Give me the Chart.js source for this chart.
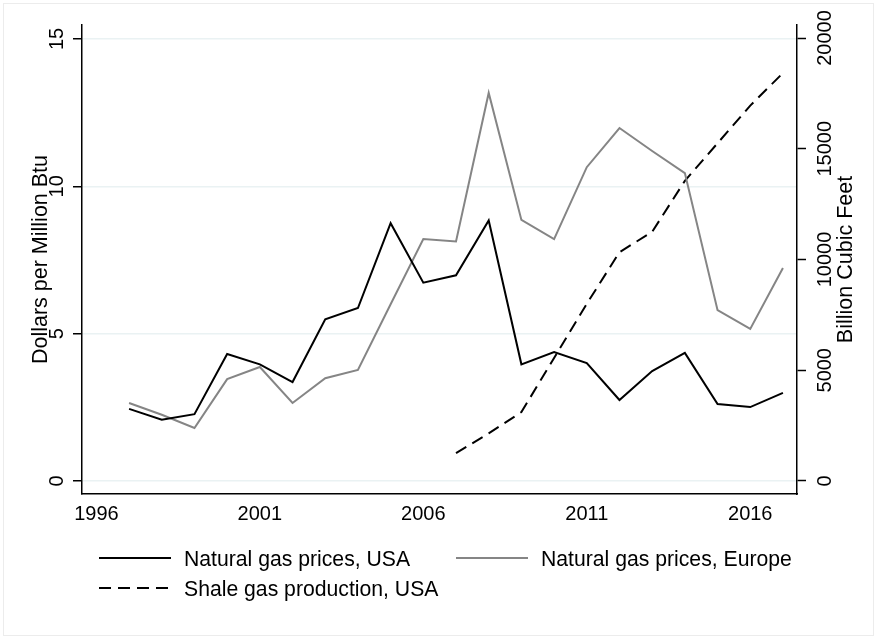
<!DOCTYPE html>
<html>
<head>
<meta charset="utf-8">
<script src="https://cdn.jsdelivr.net/npm/chart.js@4.4.1/dist/chart.umd.min.js"></script>
<style>
  html, body { margin: 0; padding: 0; background: #fff; }
  #wrap { width: 876px; height: 637px; }
</style>
</head>
<body>
<div id="wrap"><canvas id="gasChart" width="876" height="637"></canvas></div>
<script>
// Data
const years = [1997, 1998, 1999, 2000, 2001, 2002, 2003, 2004, 2005, 2006, 2007,
               2008, 2009, 2010, 2011, 2012, 2013, 2014, 2015, 2016, 2017];
const priceUSA = [2.45, 2.08, 2.27, 4.31, 3.96, 3.36, 5.49, 5.87, 8.75, 6.73, 6.98,
                  8.84, 3.96, 4.38, 4.00, 2.75, 3.73, 4.35, 2.61, 2.51, 2.99];
const priceEurope = [2.65, 2.25, 1.80, 3.46, 3.87, 2.65, 3.49, 3.77, 6.00, 8.21, 8.13,
                     13.17, 8.86, 8.21, 10.65, 11.98, 11.20, 10.45, 5.80, 5.16, 7.23];
const shaleYears = [2007, 2008, 2009, 2010, 2011, 2012, 2013, 2014, 2015, 2016, 2017];
const shaleProduction = [1260, 2150, 3110, 5550, 8000, 10330, 11250, 13550, 15250, 16950, 18420];

const xTicks = [1996, 2001, 2006, 2011, 2016];
const leftTicks = [0, 5, 10, 15];
const rightTicks = [0, 5000, 10000, 15000, 20000];

const seriesLabels = ['Natural gas prices, USA', 'Natural gas prices, Europe', 'Shale gas production, USA'];
const leftTitle = 'Dollars per Million Btu';
const rightTitle = 'Billion Cubic Feet';

const FONT = '"Liberation Sans", Arial, sans-serif';
const GRAY = '#858585';
const DASH = [12, 7];

const toPoints = (xs, ys) => xs.map((x, i) => ({ x: x, y: ys[i] }));

// Stata-style text: axis labels, titles, legend and outer frame
const stataDecor = {
    id: 'stataDecor',
    beforeDraw(chart) {
        const ctx = chart.ctx;
        ctx.save();
        ctx.fillStyle = '#fff';
        ctx.fillRect(0, 0, chart.width, chart.height);
        ctx.strokeStyle = '#ececec';
        ctx.lineWidth = 1;
        ctx.strokeRect(3.5, 3.5, 870, 632);
        ctx.restore();
    },
    afterDraw(chart) {
        const ctx = chart.ctx;
        const xS = chart.scales.x;
        const yL = chart.scales.y;
        const yR = chart.scales.y1;
        const area = chart.chartArea;
        const midY = (area.top + area.bottom) / 2;

        const text = (txt, x, y, size, rot, align) => {
            ctx.save();
            ctx.translate(x, y);
            if (rot) ctx.rotate(-Math.PI / 2);
            ctx.font = size + 'px ' + FONT;
            ctx.fillStyle = '#000';
            ctx.textAlign = align || 'center';
            ctx.textBaseline = 'alphabetic';
            ctx.fillText(txt, 0, 0);
            ctx.restore();
        };

        xTicks.forEach(v => text(String(v), xS.getPixelForValue(v), 519.5, 20, false));
        leftTicks.forEach(v => text(String(v), 63, yL.getPixelForValue(v), 20, true));
        rightTicks.forEach(v => text(String(v), 830.5, yR.getPixelForValue(v), 20, true));
        text(leftTitle, 46.5, midY, 21.5, true);
        text(rightTitle, 851.5, midY, 21.5, true);

        // legend, two rows under the plot
        const items = [
            { x: 99, y: 558, color: '#000', dash: [], label: seriesLabels[0] },
            { x: 456, y: 558, color: GRAY, dash: [], label: seriesLabels[1] },
            { x: 99, y: 588, color: '#000', dash: DASH, label: seriesLabels[2] }
        ];
        items.forEach(it => {
            ctx.save();
            ctx.strokeStyle = it.color;
            ctx.lineWidth = 2;
            ctx.setLineDash(it.dash);
            ctx.beginPath();
            ctx.moveTo(it.x, it.y);
            ctx.lineTo(it.x + 72, it.y);
            ctx.stroke();
            ctx.restore();
            text(it.label, it.x + 85, it.y + 7.5, 21.2, false, 'left');
        });
    }
};

const ctx = document.getElementById('gasChart').getContext('2d');
new Chart(ctx, {
    type: 'line',
    data: {
        datasets: [
            {
                label: seriesLabels[0],
                data: toPoints(years, priceUSA),
                borderColor: '#000',
                borderWidth: 2,
                pointRadius: 0,
                yAxisID: 'y'
            },
            {
                label: seriesLabels[1],
                data: toPoints(years, priceEurope),
                borderColor: GRAY,
                borderWidth: 2,
                pointRadius: 0,
                yAxisID: 'y'
            },
            {
                label: seriesLabels[2],
                data: toPoints(shaleYears, shaleProduction),
                borderColor: '#000',
                borderWidth: 2,
                borderDash: DASH,
                pointRadius: 0,
                yAxisID: 'y1'
            }
        ]
    },
    options: {
        responsive: false,
        animation: false,
        layout: { padding: { left: 0, right: 0, top: 25, bottom: 0 } },
        plugins: {
            legend: { display: false },
            tooltip: { enabled: false }
        },
        scales: {
            x: {
                type: 'linear',
                min: 1995.56,
                max: 2017.43,
                afterBuildTicks: s => { s.ticks = xTicks.map(v => ({ value: v })); },
                afterFit: s => { s.height = 143; },
                grid: { display: false, drawTicks: false },
                border: { display: true, color: '#000', width: 1.5 },
                ticks: { display: false }
            },
            y: {
                position: 'left',
                min: -0.44,
                max: 15.475,
                afterBuildTicks: s => { s.ticks = leftTicks.map(v => ({ value: v })); },
                afterFit: s => { s.width = 82; },
                grid: {
                    color: '#eaf2f3',
                    lineWidth: 1.5,
                    drawTicks: true,
                    tickLength: 9,
                    tickColor: '#000',
                    tickWidth: 1.5
                },
                border: { display: true, color: '#000', width: 1.5 },
                ticks: { display: false }
            },
            y1: {
                position: 'right',
                min: -587,
                max: 20587,
                afterBuildTicks: s => { s.ticks = rightTicks.map(v => ({ value: v })); },
                afterFit: s => { s.width = 79; },
                grid: {
                    drawOnChartArea: false,
                    drawTicks: true,
                    tickLength: 9,
                    tickColor: '#000',
                    tickWidth: 1.5
                },
                border: { display: true, color: '#000', width: 1.5 },
                ticks: { display: false }
            }
        }
    },
    plugins: [stataDecor]
});
</script>
</body>
</html>
